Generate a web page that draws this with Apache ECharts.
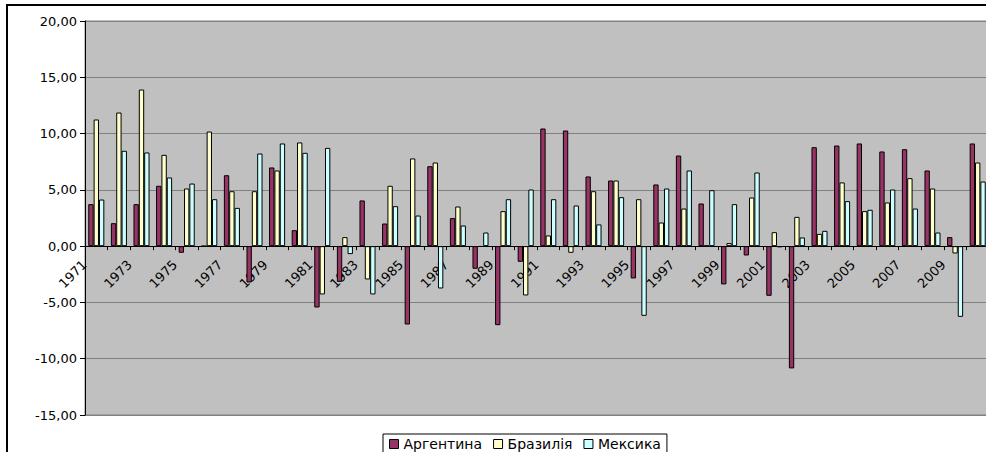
<!DOCTYPE html>
<html>
<head>
<meta charset="utf-8">
<script src="https://cdn.jsdelivr.net/npm/echarts@6/dist/echarts.min.js"></script>
<style>
  html, body { margin: 0; padding: 0; background: #fff; overflow: hidden; }
  #frame { position: absolute; left: 6px; top: 4px; width: 1100px; height: 600px; border: 2px solid #000; z-index: 0; }
  #chart { position: absolute; left: 0; top: 0; width: 990px; height: 452px; z-index: 1; }
  #legend { position: absolute; left: 382px; top: 433px; width: 320px; height: 30px; z-index: 2; }
</style>
</head>
<body>
<div id="frame"></div>
<div id="chart"></div>
<div id="legend"></div>
<script>
// Years on the category axis
const years = [];
for (let y = 1971; y <= 2010; y++) years.push(String(y));

const seriesNames = ['Аргентина', 'Бразилія', 'Мексика'];

// Values
const argentina = [3.73, 2.04, 3.73, 5.36, -0.59, 0.0, 6.30, -3.23, 6.99, 1.42,
  -5.45, -3.17, 4.06, 2.01, -6.96, 7.10, 2.49, -2.01, -7.02, -1.39,
  10.45, 10.27, 6.19, 5.83, -2.87, 5.48, 8.05, 3.79, -3.40, -0.83,
  -4.41, -10.86, 8.79, 8.94, 9.12, 8.41, 8.61, 6.72, 0.80, 9.12];
const brazil = [11.25, 11.87, 13.91, 8.11, 5.12, 10.18, 4.88, 4.88, 6.72, 9.21,
  -4.29, 0.80, -2.96, 5.36, 7.79, 7.43, 3.52, -0.06, 3.11, -4.38,
  0.95, -0.59, 4.88, 5.83, 4.17, 2.10, 3.34, 0.04, 0.27, 4.32,
  1.24, 2.60, 1.09, 5.66, 3.11, 3.88, 6.04, 5.12, -0.65, 7.43];
const mexico = [4.14, 8.47, 8.32, 6.10, 5.56, 4.17, 3.40, 8.23, 9.12, 8.29,
  8.73, -0.71, -4.29, 3.55, 2.72, -3.76, 1.83, 1.21, 4.17, 5.03,
  4.17, 3.61, 1.93, 4.35, -6.19, 5.12, 6.72, 4.97, 3.73, 6.54,
  -0.10, 0.77, 1.36, 4.00, 3.23, 5.03, 3.34, 1.21, -6.28, 5.74];

const colors = ['#993366', '#FFFFCC', '#CCFFFF'];
const font = 'DejaVu Sans';

const chartEl = document.getElementById('chart');
const chart = echarts.init(chartEl, null, { renderer: 'svg' });

function barSeries(name, data, color) {
  return {
    name: name,
    type: 'bar',
    data: data,
    barGap: '0%',
    barCategoryGap: '29%',
    itemStyle: { color: color, borderColor: '#000', borderWidth: 1 }
  };
}

// label placement is tuned below by measuring the rendered text
const cfg = { margin: 8, pad: 0, yPos: undefined };

function mainOption() {
  const yAxis = {
    type: 'value',
    min: -15, max: 20, interval: 5,
    axisLine: { show: true, lineStyle: { color: '#000', width: 1 } },
    axisTick: { show: true, length: 5, lineStyle: { color: '#000' } },
    axisLabel: {
      margin: 8,
      fontFamily: font,
      fontSize: 13,
      color: '#000',
      formatter: v => v.toFixed(2).replace('.', ',')
    },
    splitLine: { show: true, lineStyle: { color: '#808080', width: 1 } }
  };
  if (cfg.yPos) yAxis.position = cfg.yPos;
  return {
    animation: false,
    grid: {
      left: 85, top: 21, width: 904, height: 394,
      show: true,
      backgroundColor: '#C0C0C0',
      borderColor: '#808080',
      borderWidth: 1
    },
    xAxis: {
      type: 'category',
      data: years,
      axisLine: { onZero: true, lineStyle: { color: '#000', width: 1 } },
      axisTick: { show: true, interval: 0, length: 4, lineStyle: { color: '#000' } },
      axisLabel: {
        interval: 1,
        rotate: 45,
        margin: cfg.margin,
        padding: [0, cfg.pad, 0, 0],
        fontFamily: font,
        fontSize: 13,
        color: '#000'
      },
      splitLine: { show: false }
    },
    yAxis: yAxis,
    series: [
      barSeries(seriesNames[0], argentina, colors[0]),
      barSeries(seriesNames[1], brazil, colors[1]),
      barSeries(seriesNames[2], mexico, colors[2])
    ]
  };
}

function render() {
  chart.setOption(mainOption(), true);
}

function textRect(s) {
  const box = chartEl.getBoundingClientRect();
  const list = chartEl.querySelectorAll('text');
  for (const t of list) {
    if (t.textContent === s) {
      const r = t.getBoundingClientRect();
      return { l: r.left - box.left, r: r.right - box.left, t: r.top - box.top, b: r.bottom - box.top };
    }
  }
  return null;
}

render();

// y labels must sit left of the axis
const yTries = [undefined, 'right', 'left'];
for (const p of yTries) {
  cfg.yPos = p;
  render();
  const r = textRect('20,00');
  if (r && r.r < 200) break;
  if (p === 'left') { cfg.yPos = undefined; render(); }
}

// year labels: just under the zero line, ending a little left of the category centre
let found = false;
for (let k = 0; k < 4; k++) {
  const a = textRect('1973');
  if (!a) break;
  found = true;
  const dx = 135 - a.r, dy = 256 - a.t;
  if (Math.abs(dx) < 1.5 && Math.abs(dy) < 1.5) break;
  let dp = -dx / 0.7071;
  if (cfg.pad + dp < 0) dp = -cfg.pad;
  cfg.pad += dp;
  cfg.margin += dy - 0.7071 * dp;
  render();
}
if (!found) {
  cfg.margin = 8 - 169;
  cfg.pad = 12;
  render();
}

// legend
const lg = echarts.init(document.getElementById('legend'), null, { renderer: 'svg' });
lg.setOption({
  animation: false,
  grid: { left: -60, top: -60, width: 10, height: 10 },
  xAxis: { type: 'category', show: false, data: ['x'] },
  yAxis: { type: 'value', show: false },
  legend: {
    data: seriesNames,
    left: 1, top: 1,
    icon: 'rect',
    itemWidth: 9, itemHeight: 9,
    itemGap: 11,
    padding: [3, 6, 4, 6],
    borderColor: '#000',
    borderWidth: 1,
    backgroundColor: '#fff',
    itemStyle: { borderColor: '#000', borderWidth: 1 },
    textStyle: { fontFamily: font, fontSize: 14, color: '#000' }
  },
  series: seriesNames.map((n, i) => ({
    name: n, type: 'bar', data: [],
    itemStyle: { color: colors[i], borderColor: '#000', borderWidth: 1 }
  }))
});
</script>
</body>
</html>
